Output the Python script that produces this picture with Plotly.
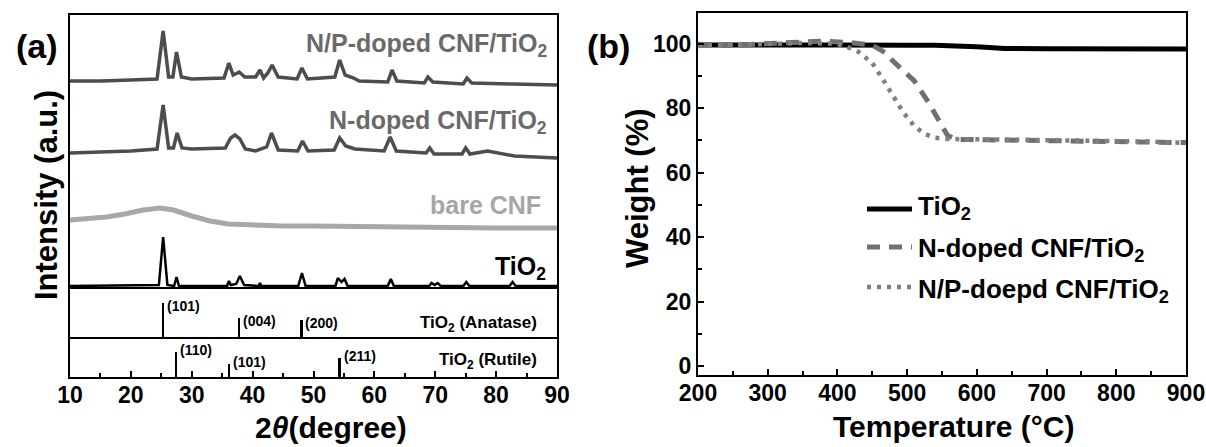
import plotly.graph_objects as go

# ---------------- Panel (a): XRD ----------------
np_2theta = [10, 15, 20, 24.3, 25.3, 26.2, 26.9, 27.5, 28.3, 30, 35.3, 36.1, 36.8, 37.8, 38.7,
             40.5, 41.2, 41.8, 42.5, 43.2, 44.2, 47.3, 48.1, 49, 53.5, 54.3, 55.2, 56.6, 57.5,
             62.2, 62.9, 63.7, 68.2, 68.8, 69.6, 74.6, 75.2, 76, 82.7, 90]
np_int = [206, 206, 207, 208, 256, 210, 210, 235, 210, 208, 209, 224, 212, 215, 210,
          210, 217, 209, 214, 222, 210, 208, 219, 208, 210, 227, 212, 209, 206,
          205, 217, 206, 204, 210, 205, 203, 209, 204, 203, 202]

n_2theta = [10, 15, 20, 24.3, 25.3, 26.2, 27.0, 27.6, 28.4, 30, 35.5, 36.4, 37.1, 37.9, 38.8,
            40.5, 42.3, 43.1, 44.2, 47.4, 48.2, 49.1, 53.4, 54.3, 55.3, 56.8, 61.6, 62.6, 63.6,
            68.5, 69.1, 69.8, 74.4, 75.0, 75.7, 78.6, 83, 90]
n_int = [134, 135, 136, 138, 182, 139, 139, 154, 139, 138, 139, 149, 152, 148, 138,
         136, 140, 154, 137, 136, 146, 136, 137, 149, 141, 138, 136, 150, 136,
         134, 139, 133, 133, 139, 133, 136, 131, 129]

cnf_2theta = [10, 13, 16, 19, 22, 24.8, 27, 30, 33, 36, 40, 45, 50, 60, 70, 80, 90]
cnf_int = [67, 68, 70, 73, 77, 79, 77, 71, 66, 63, 62, 61, 61, 60, 60, 59, 59]

tio2_2theta = [10, 24.6, 25.3, 26.0, 27.1, 27.5, 27.9, 35.8, 36.1, 36.4, 37.3, 37.9, 38.6,
               41.0, 41.2, 41.4, 47.5, 48.1, 48.7, 53.6, 54.0, 54.6, 55.1, 55.6, 62.2, 62.7,
               63.2, 69.0, 69.4, 69.9, 70.4, 70.9, 74.6, 75.1, 75.6, 82.2, 82.7, 83.2, 90]
tio2_int = [1, 2, 50, 2, 1, 10, 1, 1, 6, 2, 3, 11, 2,
            1, 4, 1, 1, 14, 1, 1, 9, 5, 8, 1, 1, 8,
            1, 1, 4, 2, 4, 1, 1, 5, 1, 1, 5, 1, 1]

anatase_pos = [25.3, 37.8, 48.0]
anatase_h = [34, 19, 17]
anatase_lbl = ["(101)", "(004)", "(200)"]

rutile_pos = [27.4, 36.1, 54.3]
rutile_h = [25, 13, 19]
rutile_lbl = ["(110)", "(101)", "(211)"]

# ---------------- Panel (b): TGA ----------------
t_tio2 = [200, 300, 400, 500, 540, 600, 640, 700, 800, 900]
w_tio2 = [99.6, 99.7, 99.6, 99.5, 99.5, 99.0, 98.5, 98.4, 98.3, 98.3]

t_n = [200, 250, 300, 350, 380, 420, 450, 470, 480, 510, 530, 550, 558, 570, 650, 750, 850, 900]
w_n = [99.8, 99.5, 100, 100.5, 100.8, 100.3, 99.5, 97, 94.5, 88.5, 82, 74.5, 71.5, 70.3, 70, 69.8, 69.5, 69.3]

t_np = [200, 250, 300, 350, 390, 410, 430, 450, 465, 480, 495, 510, 525, 540, 560, 650, 750, 850, 900]
w_np = [99.3, 99.6, 99.8, 100.2, 100, 99.3, 97.5, 94, 89, 83.5, 78.5, 74.5, 72, 70.8, 70.4, 70.2, 70, 69.6, 69.2]

W, H = 1206, 447
FONT = "Liberation Sans, Arial, sans-serif"


def px(x):
    return x / W


def py(y):
    return 1 - y / H


fig = go.Figure()

DARK = "#4d4d4d"
fig.add_trace(go.Scatter(x=np_2theta, y=np_int, mode="lines", line=dict(color=DARK, width=3.5),
                         xaxis="x", yaxis="y", showlegend=False))
fig.add_trace(go.Scatter(x=n_2theta, y=n_int, mode="lines", line=dict(color=DARK, width=3.5),
                         xaxis="x", yaxis="y", showlegend=False))
fig.add_trace(go.Scatter(x=cnf_2theta, y=cnf_int, mode="lines", line=dict(color="#a8a8a8", width=5),
                         xaxis="x", yaxis="y", showlegend=False))
fig.add_trace(go.Scatter(x=tio2_2theta, y=tio2_int, mode="lines", line=dict(color="black", width=2.5),
                         xaxis="x", yaxis="y", showlegend=False))

fig.add_trace(go.Bar(x=anatase_pos, y=anatase_h, width=0.4, marker=dict(color="black", line=dict(width=0)),
                     xaxis="x2", yaxis="y2", showlegend=False))
fig.add_trace(go.Bar(x=rutile_pos, y=rutile_h, width=0.4, marker=dict(color="black", line=dict(width=0)),
                     xaxis="x3", yaxis="y3", showlegend=False))

fig.add_trace(go.Scatter(x=t_tio2, y=w_tio2, mode="lines", name="TiO<sub>2</sub>",
                         line=dict(color="black", width=5), xaxis="x4", yaxis="y4", showlegend=False))
fig.add_trace(go.Scatter(x=t_n, y=w_n, mode="lines", name="N-doped CNF/TiO<sub>2</sub>",
                         line=dict(color="#707070", width=5, dash="13px,9px"), xaxis="x4", yaxis="y4",
                         showlegend=False))
fig.add_trace(go.Scatter(x=t_np, y=w_np, mode="lines", name="N/P-doepd CNF/TiO<sub>2</sub>",
                         line=dict(color="#808080", width=4.5, dash="4px,6px"), xaxis="x4", yaxis="y4",
                         showlegend=False))

xa_dom = [px(70), px(557)]
xb_dom = [px(698), px(1186)]


def line_style(mirror=True):
    return dict(showline=True, linecolor="black", linewidth=2, mirror=mirror, zeroline=False,
                showgrid=False, automargin=False)


tickfont = dict(family=FONT, size=23, color="black", weight="bold")

layout = dict(
    width=W, height=H,
    margin=dict(l=0, r=0, t=0, b=0, autoexpand=False),
    paper_bgcolor="white", plot_bgcolor="white",
    font=dict(family=FONT, color="black", weight="bold"),
    bargap=0,
    xaxis=dict(domain=xa_dom, range=[10, 90], anchor="y", showticklabels=False, ticks="", **line_style()),
    yaxis=dict(domain=[py(287), py(15)], range=[0, 272], anchor="x", showticklabels=False, ticks="",
               **line_style()),
    xaxis2=dict(domain=xa_dom, range=[10, 90], anchor="y2", showticklabels=False, ticks="",
                **line_style(False)),
    yaxis2=dict(domain=[py(337), py(287)], range=[0, 50], anchor="x2", showticklabels=False, ticks="",
                **line_style()),
    xaxis3=dict(domain=xa_dom, range=[10, 90], anchor="y3", tickmode="linear", tick0=10, dtick=10,
                ticks="inside", ticklen=6, tickwidth=2, tickcolor="black", tickfont=tickfont,
                minor=dict(dtick=5, tick0=10, ticks="inside", ticklen=4, tickwidth=2, tickcolor="black"),
                ticklabelstandoff=-4, **line_style(False)),
    yaxis3=dict(domain=[py(377), py(337)], range=[0, 40], anchor="x3", showticklabels=False, ticks="",
                **line_style()),
    xaxis4=dict(domain=xb_dom, range=[200, 900], anchor="y4", tickmode="linear", tick0=200, dtick=100,
                ticks="inside", ticklen=6, tickwidth=2, tickcolor="black", tickfont=tickfont,
                minor=dict(dtick=50, tick0=200, ticks="inside", ticklen=4, tickwidth=2, tickcolor="black"),
                ticklabelstandoff=-4, **line_style()),
    yaxis4=dict(domain=[py(375), py(13)], range=[-2.8, 109.5], anchor="x4", tickmode="linear", tick0=0,
                dtick=20, ticks="inside", ticklen=6, tickwidth=2, tickcolor="black", tickfont=tickfont,
                minor=dict(dtick=10, tick0=0, ticks="inside", ticklen=4, tickwidth=2, tickcolor="black"),
                ticklabelstandoff=0, **line_style()),
)
fig.update_layout(**layout)

ann = []


def text(x, y, s, size, color="black", xanchor="center", yanchor="middle", angle=0, weight="bold"):
    ann.append(dict(x=px(x), y=py(y), xref="paper", yref="paper", text=s, showarrow=False,
                    xanchor=xanchor, yanchor=yanchor, textangle=angle,
                    font=dict(family=FONT, size=size, color=color, weight=weight)))


# panel labels
text(37, 46, "(a)", 34)
text(608, 46, "(b)", 34)

# axis titles
text(47, 195, "Intensity (a.u.)", 31, angle=-90)
text(331, 427, "2<i>θ</i>(degree)", 30)
text(637, 188, "Weight (%)", 31, angle=-90)
text(953, 426, "Temperature (°C)", 30)

# trace labels panel (a)
GRAY_TXT = "#6a6a6a"
text(549, 45, "N/P-doped CNF/TiO<sub>2</sub>", 25, color=GRAY_TXT, xanchor="right")
text(549, 122, "N-doped CNF/TiO<sub>2</sub>", 25, color=GRAY_TXT, xanchor="right")
text(543, 205, "bare CNF", 25, color="#a6a6a6", xanchor="right")
text(548, 268, "TiO<sub>2</sub>", 25, xanchor="right")
text(539, 324, "TiO<sub>2</sub> (Anatase)", 17, xanchor="right")
text(539, 361, "TiO<sub>2</sub> (Rutile)", 17, xanchor="right")

# Miller index labels placed at stick tops
for p, h, l in zip(anatase_pos, anatase_h, anatase_lbl):
    ann.append(dict(x=p, y=h, xref="x2", yref="y2", text=l, showarrow=False, xanchor="left",
                    yanchor="middle", xshift=2, yshift=-3,
                    font=dict(family=FONT, size=14, color="black", weight="bold")))
for p, h, l in zip(rutile_pos, rutile_h, rutile_lbl):
    ann.append(dict(x=p, y=h, xref="x3", yref="y3", text=l, showarrow=False, xanchor="left",
                    yanchor="middle", xshift=2, yshift=2,
                    font=dict(family=FONT, size=14, color="black", weight="bold")))

# manual legend for panel (b)
shapes = [
    dict(type="line", xref="paper", yref="paper", x0=px(867), x1=px(912), y0=py(209), y1=py(209),
         line=dict(color="black", width=5)),
    dict(type="line", xref="paper", yref="paper", x0=px(867), x1=px(912), y0=py(247), y1=py(247),
         line=dict(color="#707070", width=5, dash="13px,9px")),
    dict(type="line", xref="paper", yref="paper", x0=px(867), x1=px(912), y0=py(287), y1=py(287),
         line=dict(color="#808080", width=4.5, dash="4px,6px")),
]
text(916, 208, "TiO<sub>2</sub>", 26, xanchor="left")
text(916, 249, "N-doped CNF/TiO<sub>2</sub>", 26, xanchor="left")
text(916, 290, "N/P-doepd CNF/TiO<sub>2</sub>", 26, xanchor="left")

fig.update_layout(annotations=ann, shapes=shapes)

fig.write_html("out.html", config={"displayModeBar": False},
               post_script="document.body.style.margin='0';document.body.style.overflow='hidden';")
